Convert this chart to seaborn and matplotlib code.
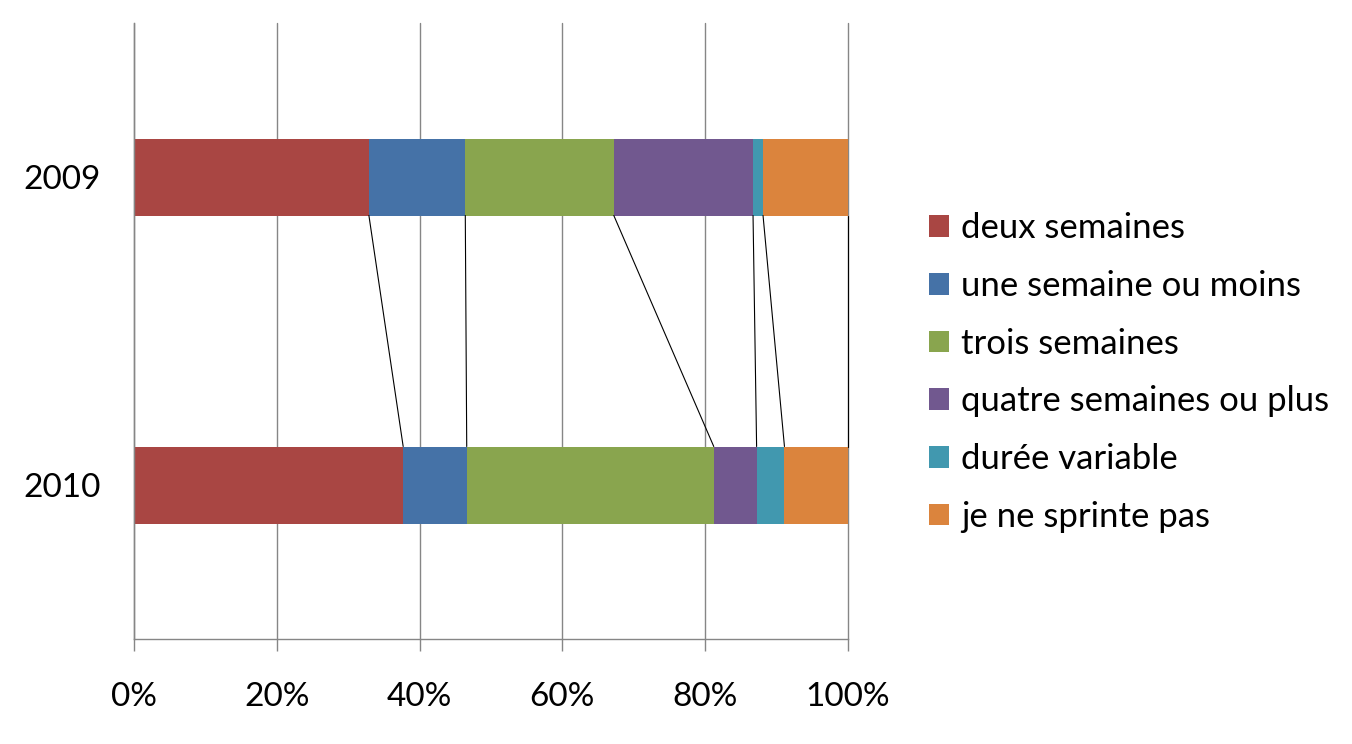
import numpy as np
import pandas as pd
import seaborn as sns
import matplotlib.pyplot as plt
from matplotlib.patches import Patch

# Data (percent of respondents)
years = ["2009", "2010"]
series = ["deux semaines", "une semaine ou moins", "trois semaines",
          "quatre semaines ou plus", "durée variable", "je ne sprinte pas"]
vals_2009 = [32.9, 13.5, 20.8, 19.5, 1.4, 11.9]
vals_2010 = [37.7, 8.9, 34.6, 6.0, 3.9, 8.9]
colors = ["#A94643", "#4572A7", "#89A54E", "#71588F", "#4198AF", "#DB843D"]
xticks = [0, 20, 40, 60, 80, 100]

sns.set_theme(style="white")
plt.rcParams['font.family'] = ['Lato', 'DejaVu Sans']

cum = np.cumsum([vals_2009, vals_2010], axis=1)
rows = []
for i, y in enumerate(years):
    for j, s in enumerate(series):
        rows.append({"year": y, "series": s, "cum": cum[i, j]})
df = pd.DataFrame(rows)

fig = plt.figure(figsize=(13.52, 7.44), dpi=100)
ax = fig.add_axes([134 / 1352, 1 - 639 / 744, 714 / 1352, 616 / 744])
ax.set_axisbelow(True)

# stacked bars: draw cumulative totals from the largest down
bar_w = 0.25
for j in range(len(series) - 1, -1, -1):
    sub = df[df["series"] == series[j]]
    sns.barplot(data=sub, x="cum", y="year", order=years, color=colors[j],
                width=bar_w, orient="h", saturation=1, linewidth=0,
                ax=ax, zorder=2)

# series lines between bars
for j in range(len(series)):
    ax.plot([cum[0, j], cum[1, j]], [0 + bar_w / 2, 1 - bar_w / 2],
            color="black", lw=0.8, zorder=3, clip_on=False)

ax.set_xlim(0, 100)
ax.set_ylim(1.5, -0.5)
ax.set_xticks(xticks)
ax.set_xticklabels([f"{t}%" for t in xticks])
ax.set_xlabel("")
ax.set_ylabel("")
ax.grid(axis="x", color="#868686", lw=1)
ax.grid(axis="y", visible=False)
for gl in ax.get_xgridlines():
    gl.set_clip_on(False)
for side in ["top", "right"]:
    ax.spines[side].set_visible(False)
for side in ["left", "bottom"]:
    ax.spines[side].set_color("#868686")
    ax.spines[side].set_linewidth(1)
ax.tick_params(axis="x", length=8.6, width=1, color="#868686", direction="out",
               pad=22, labelsize=24, labelcolor="black", bottom=True)
ax.tick_params(axis="y", length=0, pad=24, labelsize=24, labelcolor="black")

handles = [Patch(facecolor=c, edgecolor="none") for c in colors]
fig.legend(handles, series, loc="center left", bbox_to_anchor=(929 / 1352, 1 - 372.5 / 744),
           frameon=False, fontsize=25, labelcolor="black", handlelength=0.58,
           handleheight=0.58, handletextpad=0.35, labelspacing=0.74,
           borderpad=0, borderaxespad=0)

fig.savefig("out.png", dpi=100)
